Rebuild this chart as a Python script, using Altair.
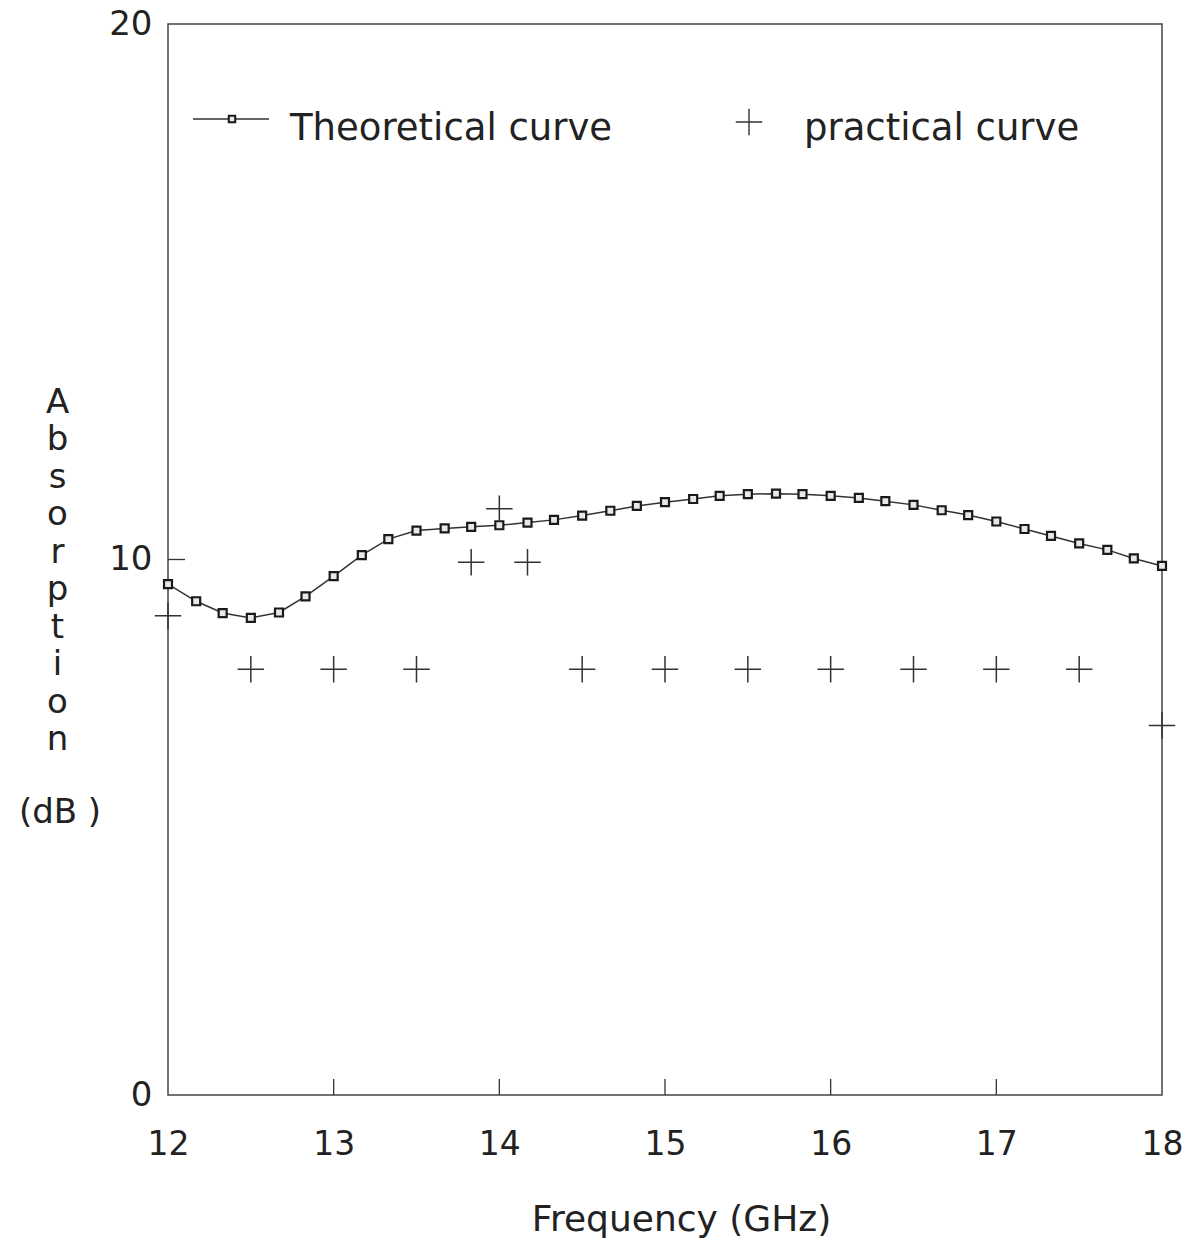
import altair as alt
import pandas as pd

# ---------------- data ----------------
theory_freq = [12.0, 12.17, 12.33, 12.5, 12.67, 12.83, 13.0, 13.17, 13.33, 13.5,
               13.67, 13.83, 14.0, 14.17, 14.33, 14.5, 14.67, 14.83, 15.0, 15.17,
               15.33, 15.5, 15.67, 15.83, 16.0, 16.17, 16.33, 16.5, 16.67, 16.83,
               17.0, 17.17, 17.33, 17.5, 17.67, 17.83, 18.0]
theory_abs = [9.54, 9.22, 9.00, 8.91, 9.01, 9.31, 9.69, 10.08, 10.38, 10.54,
              10.58, 10.61, 10.64, 10.69, 10.74, 10.82, 10.91, 11.00, 11.07, 11.13,
              11.19, 11.22, 11.23, 11.22, 11.19, 11.15, 11.09, 11.02, 10.92, 10.83,
              10.71, 10.57, 10.44, 10.30, 10.18, 10.02, 9.88]

practical_freq = [12.0, 12.5, 13.0, 13.5, 13.83, 14.0, 14.17, 14.5, 15.0, 15.5,
                  16.0, 16.5, 17.0, 17.5, 18.0]
practical_abs = [8.95, 7.95, 7.95, 7.95, 9.95, 10.95, 9.95, 7.95, 7.95, 7.95,
                 7.95, 7.95, 7.95, 7.95, 6.9]

x_tick_labels = [12, 13, 14, 15, 16, 17, 18]
x_inner_ticks = [13, 14, 15, 16, 17]
y_tick_labels = [0, 10, 20]
y_inner_ticks = [10]

legend_labels = ["Theoretical curve", "practical curve"]
y_title_lines = ["A", "b", "s", "o", "r", "p", "t", "i", "o", "n"]
y_unit_label = ["(dB )"]

# ---------------- styling ----------------
W, H = 994, 1071
FONT = "DejaVu Sans"
INK = "#222222"

x_scale = alt.Scale(domain=[12, 18], nice=False, zero=False)
y_scale = alt.Scale(domain=[0, 20], nice=False, zero=True)

x_axis = alt.Axis(
    values=x_tick_labels, format="d", ticks=False, domain=False, grid=False,
    labelFlush=False, labelOverlap=False,
    labelFont=FONT, labelFontSize=33, labelColor=INK, labelPadding=33,
    title="Frequency (GHz)", titleFont=FONT, titleFontSize=36,
    titleFontWeight="normal", titleColor=INK, titleX=513, titleY=135,
    titleAlign="center", titleBaseline="alphabetic",
)
y_axis = alt.Axis(
    values=y_tick_labels, format="d", ticks=False, domain=False, grid=False,
    labelFlush=False, labelOverlap=False,
    labelFont=FONT, labelFontSize=34, labelColor=INK, labelPadding=16,
    title=y_title_lines, titleFont=FONT, titleFontSize=34,
    titleFontWeight="normal", titleColor=INK, titleAngle=0,
    titleX=-111, titleY=388, titleAlign="center", titleBaseline="alphabetic",
    titleLineHeight=37.5,
)

theory_df = pd.DataFrame({"freq": theory_freq, "absorption": theory_abs})
practical_df = pd.DataFrame({"freq": practical_freq, "absorption": practical_abs})
xt_df = pd.DataFrame({"freq": x_inner_ticks})
yt_df = pd.DataFrame({"absorption": y_inner_ticks})
leg_df = pd.DataFrame({"label": legend_labels})
unit_df = pd.DataFrame({"label": y_unit_label})

cross_path = "M-1,0H1M0,-1V1"

base_x = alt.X("freq:Q", scale=x_scale, axis=x_axis)
base_y = alt.Y("absorption:Q", scale=y_scale, axis=y_axis)

SQ_SIZE = 64
theory_line = alt.Chart(theory_df).mark_line(color="#333333", strokeWidth=1.5).encode(
    x=base_x, y=base_y)
theory_pts = alt.Chart(theory_df).mark_point(
    shape="square", size=SQ_SIZE, filled=True, fill="#e8e8e8", stroke="#1a1a1a",
    strokeWidth=2.2, opacity=1).encode(
    x=alt.X("freq:Q", scale=x_scale), y=alt.Y("absorption:Q", scale=y_scale))
practical_pts = alt.Chart(practical_df).mark_point(
    shape=cross_path, size=700, filled=False, stroke="#333333",
    strokeWidth=1.5, opacity=1).encode(
    x=alt.X("freq:Q", scale=x_scale), y=alt.Y("absorption:Q", scale=y_scale))

x_ticks = alt.Chart(xt_df).mark_rule(color="#333333", strokeWidth=1.3).encode(
    x=alt.X("freq:Q", scale=x_scale), y=alt.value(H), y2=alt.value(H - 16))
y_ticks = alt.Chart(yt_df).mark_rule(color="#333333", strokeWidth=1.3).encode(
    y=alt.Y("absorption:Q", scale=y_scale), x=alt.value(0), x2=alt.value(17))

# y-axis unit below the stacked title letters
unit_text = alt.Chart(unit_df).mark_text(
    align="center", baseline="alphabetic", font=FONT, fontSize=34, color=INK).encode(
    x=alt.value(-108), y=alt.value(799), text="label:N")

# legend (drawn inside the plot)
leg_theory = leg_df[leg_df["label"] == legend_labels[0]]
leg_prac = leg_df[leg_df["label"] == legend_labels[1]]

leg_line = alt.Chart(leg_theory).mark_rule(color="#333333", strokeWidth=1.4).encode(
    x=alt.value(25), x2=alt.value(101), y=alt.value(95))
leg_sq = alt.Chart(leg_theory).mark_point(
    shape="square", size=42, filled=True, fill="#e8e8e8", stroke="#1a1a1a",
    strokeWidth=2.0, opacity=1).encode(x=alt.value(64), y=alt.value(95))
leg_t1 = alt.Chart(leg_theory).mark_text(
    align="left", baseline="alphabetic", font=FONT, fontSize=37, color=INK).encode(
    x=alt.value(122), y=alt.value(116), text="label:N")
leg_cross = alt.Chart(leg_prac).mark_point(
    shape=cross_path, size=700, filled=False, stroke="#333333",
    strokeWidth=1.4, opacity=1).encode(x=alt.value(581), y=alt.value(98))
leg_t2 = alt.Chart(leg_prac).mark_text(
    align="left", baseline="alphabetic", font=FONT, fontSize=37, color=INK).encode(
    x=alt.value(636), y=alt.value(116), text="label:N")

chart = alt.layer(
    theory_line, theory_pts, practical_pts, x_ticks, y_ticks, unit_text,
    leg_line, leg_sq, leg_t1, leg_cross, leg_t2,
).properties(
    width=W, height=H,
    autosize=alt.AutoSizeParams(type="none"),
    padding={"left": 168, "top": 24, "right": 32, "bottom": 144},
    background="white",
).configure_view(stroke="#444444", strokeWidth=1.5)

chart.save("out.html", embed_options={"renderer": "svg", "actions": False})
